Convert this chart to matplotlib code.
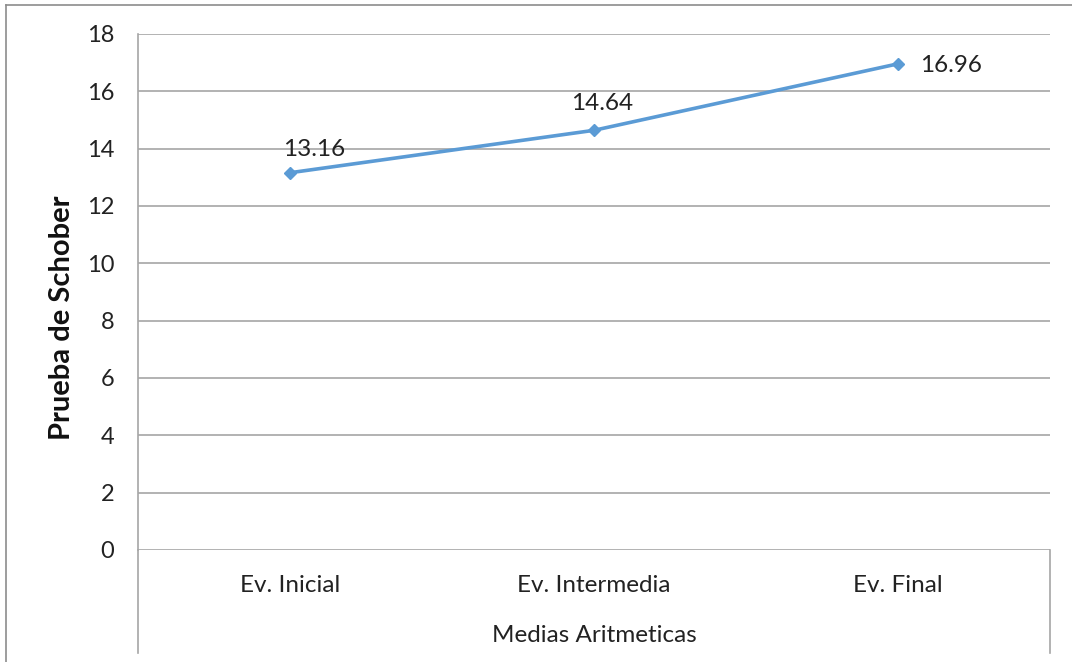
import matplotlib
matplotlib.use("Agg")
import matplotlib.pyplot as plt
import matplotlib.transforms as mtransforms
from matplotlib.lines import Line2D

plt.rcParams['font.family'] = ['Lato', 'DejaVu Sans']

# Schober test means per evaluation
categories = ['Ev. Inicial', 'Ev. Intermedia', 'Ev. Final']
values = [13.16, 14.64, 16.96]
y_ticks = [0, 2, 4, 6, 8, 10, 12, 14, 16, 18]

W, H = 1072, 662
fig = plt.figure(figsize=(W / 100, H / 100), dpi=100)
fig.patch.set_facecolor('white')

# plot area in pixel terms
left, right, top, bottom = 138, 1050, 34, 550
ax = fig.add_axes([left / W, (H - bottom) / H, (right - left) / W, (bottom - top) / H])

x = list(range(len(categories)))
ax.plot(x, values, color='#5B9BD5', linewidth=2.6, marker='D', markersize=6.5,
        markerfacecolor='#5B9BD5', markeredgecolor='#5B9BD5', zorder=3)

ax.set_xlim(-0.5, len(categories) - 0.5)
ax.set_ylim(0, 18)
ax.set_yticks(y_ticks)
ax.set_yticklabels([str(t) for t in y_ticks], fontsize=17, color='#222222')
ax.set_xticks(x)
ax.set_xticklabels(categories, fontsize=17.5, color='#222222')
ax.tick_params(axis='both', length=0)
ax.tick_params(axis='y', pad=17)
ax.tick_params(axis='x', pad=18)

grid_color = '#A6A6A6'
ax.yaxis.grid(True, color=grid_color, linewidth=1.2)
ax.set_axisbelow(True)
for s in ['top', 'right', 'bottom']:
    ax.spines[s].set_visible(False)
ax.spines['left'].set_color(grid_color)
ax.spines['left'].set_linewidth(1.2)

# category table extension below the axis
ext = (bottom - 653) / (bottom - top)
trans = mtransforms.blended_transform_factory(ax.transData, ax.transAxes)
for xv in [-0.5, len(categories) - 0.5]:
    ax.add_line(Line2D([xv, xv], [0, ext], transform=trans, color=grid_color,
                       linewidth=1.2, clip_on=False))

# data labels
offsets = [(24, 23, 'center'), (8, 27, 'center'), (22, -2, 'left')]
for xi, v, (dx, dy, ha) in zip(x, values, offsets):
    ax.annotate(f'{v:.2f}', (xi, v), xytext=(dx, dy), textcoords='offset pixels',
                ha=ha, va='center', fontsize=17.5, color='#222222')

fig.text(62 / W, 1 - 318 / H, 'Prueba de Schober', rotation=90, ha='center',
         va='center', fontsize=21, fontweight='bold', color='#111111')

fig.text(594 / W, 1 - 635 / H, 'Medias Aritmeticas', ha='center', va='center',
         fontsize=17.5, color='#222222')

# outer chart border
fig.add_artist(Line2D([6 / W, 6 / W], [0, 1 - 5 / H], color='#8C8C8C', linewidth=1.2))
fig.add_artist(Line2D([6 / W, 1], [1 - 5 / H, 1 - 5 / H], color='#8C8C8C', linewidth=1.2))

fig.savefig('out.png', dpi=100)
